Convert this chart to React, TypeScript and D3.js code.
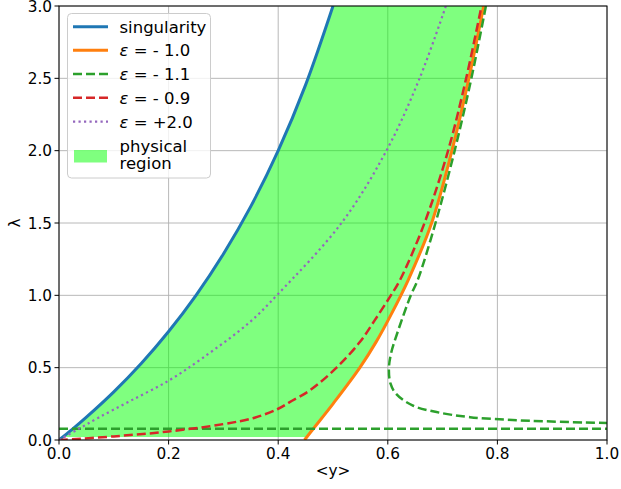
import React from "react";
import * as d3 from "d3";

// ---- data ----
const singX = [0, 0.023, 0.05, 0.1, 0.15, 0.2, 0.25, 0.3, 0.35, 0.4, 0.45, 0.5];
const singL = [0, 0.07, 0.158, 0.333, 0.529, 0.75, 1.0, 1.286, 1.615, 2.0, 2.455, 3.0];

const eps10X = [0.448, 0.4637, 0.5, 0.549, 0.579, 0.605, 0.637, 0.68, 0.717, 0.748, 0.775];
const eps10L = [0, 0.076, 0.25, 0.5, 0.68, 0.86, 1.104, 1.5, 2.0, 2.5, 3.0];

const eps09X = [0, 0.1, 0.2, 0.3, 0.357, 0.4, 0.421, 0.4577, 0.5064, 0.549, 0.576, 0.6036, 0.622, 0.667, 0.71, 0.743, 0.771];
const eps09L = [0, 0.025, 0.059, 0.11, 0.154, 0.216, 0.262, 0.343, 0.5, 0.677, 0.827, 0.988, 1.104, 1.5, 2.0, 2.5, 3.0];

const eps20X = [0, 0.035, 0.072, 0.13, 0.2, 0.261, 0.347, 0.4, 0.5155, 0.5975, 0.658, 0.706];
const eps20L = [0, 0.075, 0.154, 0.27, 0.41, 0.564, 0.811, 1.01, 1.5, 2.0, 2.5, 3.0];

const eps11BranchX = [0.779, 0.7525, 0.722, 0.687, 0.655, 0.642, 0.619, 0.606, 0.602, 0.605, 0.615, 0.645, 0.689, 0.75, 0.84, 1.0];
const eps11BranchL = [3.0, 2.5, 2.0, 1.5, 1.11, 1.0, 0.758, 0.6, 0.49, 0.389, 0.32, 0.239, 0.193, 0.158, 0.136, 0.117];
const eps11FlatX = [0, 1];
const eps11FlatL = [0.078, 0.078];

const regionMinL = 0.02;

const xTicks = [0, 0.2, 0.4, 0.6, 0.8, 1.0];
const yTicks = [0, 0.5, 1.0, 1.5, 2.0, 2.5, 3.0];

const legendLabels = ["singularity", "- 1.0", "- 1.1", "- 0.9", "+2.0"];

// ---- layout ----
const W = 621;
const H = 489;
const L = 59, R = 607, T = 6, B = 440;

const C = {
  blue: "#1f77b4",
  orange: "#ff7f0e",
  green: "#2ca02c",
  red: "#d62728",
  purple: "#9467bd",
};

export default function App() {
  const x = d3.scaleLinear().domain([0, 1]).range([L, R]);
  const y = d3.scaleLinear().domain([0, 3]).range([B, T]);

  const pts = (xs: number[], ls: number[]) => xs.map((v, i) => [v, ls[i]] as [number, number]);
  const line = d3
    .line<[number, number]>()
    .x((d) => x(d[0]))
    .y((d) => y(d[1]))
    .curve(d3.curveCatmullRom.alpha(0.5));

  const blue = pts(singX, singL);
  const orange = pts(eps10X, eps10L);
  const fillPath =
    (line(blue) as string) +
    "L" +
    (line(orange.slice().reverse()) as string).slice(1) +
    "Z";

  const font = "'DejaVu Sans', sans-serif";
  const tickFs = 15.3;
  const legFs = 16.5;

  const legRows = [26.7, 50.2, 74, 97.8, 121.7];
  const legStyles = [
    { c: C.blue, w: 3, dash: undefined as string | undefined },
    { c: C.orange, w: 3, dash: undefined },
    { c: C.green, w: 2.5, dash: "9,4" },
    { c: C.red, w: 2.5, dash: "9,4" },
    { c: C.purple, w: 2.2, dash: "2.2,3.3" },
  ];

  return (
    <svg
      width={W}
      height={H}
      style={{ position: "absolute", left: 0, top: 0, background: "#fff" }}
      fontFamily={font}
    >
      <defs>
        <clipPath id="plot">
          <rect x={L} y={T} width={R - L} height={B - T} />
        </clipPath>
        <clipPath id="region">
          <rect x={L} y={T} width={R - L} height={y(regionMinL) - T} />
        </clipPath>
      </defs>

      {/* grid */}
      <g stroke="#b0b0b0" strokeWidth={0.9}>
        {xTicks.map((t) => (
          <line key={"gx" + t} x1={x(t)} x2={x(t)} y1={T} y2={B} />
        ))}
        {yTicks.map((t) => (
          <line key={"gy" + t} x1={L} x2={R} y1={y(t)} y2={y(t)} />
        ))}
      </g>

      {/* physical region */}
      <g clipPath="url(#region)">
        <path d={fillPath} fill="#00ff00" fillOpacity={0.5} stroke="none" />
      </g>

      {/* curves */}
      <g clipPath="url(#plot)" fill="none">
        <path d={line(blue) as string} stroke={C.blue} strokeWidth={3} />
        <path d={line(orange) as string} stroke={C.orange} strokeWidth={3} />
        <path
          d={line(pts(eps11BranchX, eps11BranchL)) as string}
          stroke={C.green}
          strokeWidth={2.5}
          strokeDasharray="9,4"
        />
        <path
          d={line(pts(eps11FlatX, eps11FlatL)) as string}
          stroke={C.green}
          strokeWidth={2.5}
          strokeDasharray="9,4"
        />
        <path
          d={line(pts(eps09X, eps09L)) as string}
          stroke={C.red}
          strokeWidth={2.5}
          strokeDasharray="9,4"
        />
        <path
          d={line(pts(eps20X, eps20L)) as string}
          stroke={C.purple}
          strokeWidth={2.2}
          strokeDasharray="2.2,3.3"
        />
      </g>

      {/* spines */}
      <rect x={L} y={T} width={R - L} height={B - T} fill="none" stroke="#000" strokeWidth={1} />

      {/* ticks */}
      <g stroke="#000" strokeWidth={1}>
        {xTicks.map((t) => (
          <line key={"tx" + t} x1={x(t)} x2={x(t)} y1={B} y2={B + 4.5} />
        ))}
        {yTicks.map((t) => (
          <line key={"ty" + t} x1={L - 4.5} x2={L} y1={y(t)} y2={y(t)} />
        ))}
      </g>
      <g fontSize={tickFs} fill="#000">
        {xTicks.map((t) => (
          <text key={"lx" + t} x={x(t)} y={459} textAnchor="middle">
            {t.toFixed(1)}
          </text>
        ))}
        {yTicks.map((t) => (
          <text key={"ly" + t} x={52} y={Math.max(y(t) + 5.5, 11.5)} textAnchor="end">
            {t.toFixed(1)}
          </text>
        ))}
      </g>

      {/* axis labels */}
      <text x={(L + R) / 2} y={476} textAnchor="middle" fontSize={tickFs}>
        {"<y>"}
      </text>
      <text transform={`translate(20, ${(T + B) / 2}) rotate(-90)`} textAnchor="middle" fontSize={tickFs}>
        λ
      </text>

      {/* legend */}
      <g>
        <rect
          x={67.5}
          y={13.5}
          width={143}
          height={164.5}
          rx={4}
          fill="#fff"
          fillOpacity={0.8}
          stroke="#cccccc"
          strokeWidth={1}
        />
        {legRows.map((cy, i) => (
          <g key={"leg" + i}>
            <line
              x1={73}
              x2={108}
              y1={cy}
              y2={cy}
              stroke={legStyles[i].c}
              strokeWidth={legStyles[i].w}
              strokeDasharray={legStyles[i].dash}
            />
            <text x={119.5} y={cy + 6} fontSize={legFs}>
              {i === 0 ? (
                legendLabels[i]
              ) : (
                <>
                  <tspan fontStyle="italic">ε</tspan>
                  {" = " + legendLabels[i]}
                </>
              )}
            </text>
          </g>
        ))}
        <rect x={74} y={150} width={33} height={12.5} fill="#00ff00" fillOpacity={0.5} />
        <text x={119.5} y={151.5} fontSize={legFs}>
          physical
        </text>
        <text x={119.5} y={169} fontSize={legFs}>
          region
        </text>
      </g>
    </svg>
  );
}
